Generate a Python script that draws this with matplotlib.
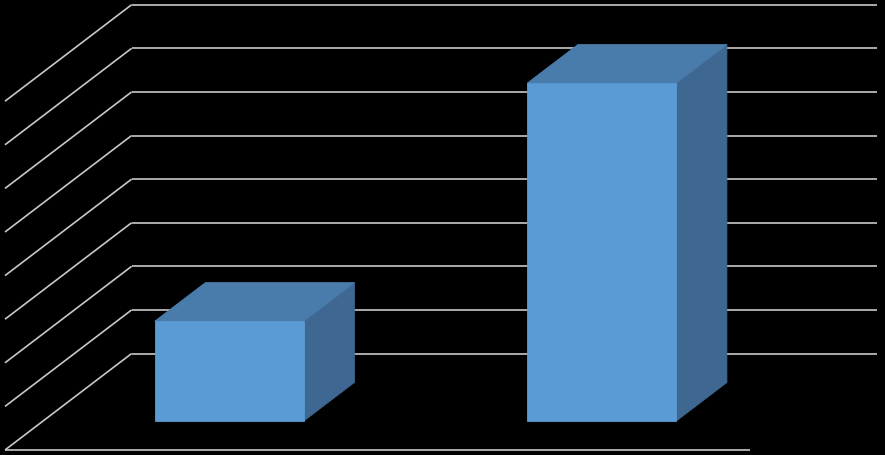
import matplotlib
matplotlib.use("Agg")
import matplotlib.pyplot as plt
from matplotlib.patches import Polygon

# data
categories = ["A", "B"]
values = [2.29, 7.75]
grid_values = [0, 1, 2, 3, 4, 5, 6, 7, 8]

# oblique 3D projection (in data units)
depth_dx = 0.3400   # shift in category units for full depth
depth_dy = 2.213    # shift in value units for full depth
bar_width = 0.4
bar_depth = 0.4

front_color = "#5B9BD5"
top_color = "#4A7CAB"
side_color = "#3E6891"
grid_color = "#C8C8C8"


def project(x, z, v):
    return x + z * depth_dx, v + z * depth_dy


fig = plt.figure(figsize=(8.85, 4.56), dpi=100, facecolor="black")
ax = fig.add_axes([0, 0, 1, 1])
ax.set_facecolor("black")
ax.set_xlim(-0.0134, 2.3624)
ax.set_ylim(-0.1147, 10.344)
ax.axis("off")

n = len(categories)

# back wall and side wall gridlines
for g in grid_values:
    x0, y0 = project(0, 1, g)
    x1, y1 = project(n, 1, g)
    ax.plot([x0, x1], [y0, y1], color=grid_color, lw=1.2, solid_capstyle="butt")
    xa, ya = project(0, 0, g)
    ax.plot([xa, x0], [ya, y0], color=grid_color, lw=1.2, solid_capstyle="butt")

# front floor edge
fx0, fy0 = project(0, 0, 0)
fx1, fy1 = project(n, 0, 0)
ax.plot([fx0, fx1], [fy0, fy1], color=grid_color, lw=1.2, solid_capstyle="butt")

# bars
for i, v in enumerate(values):
    xl = i + 0.5 - bar_width / 2
    xr = i + 0.5 + bar_width / 2
    zf = 0.5 - bar_depth / 2
    zb = 0.5 + bar_depth / 2
    front = [project(xl, zf, 0), project(xr, zf, 0), project(xr, zf, v), project(xl, zf, v)]
    top = [project(xl, zf, v), project(xr, zf, v), project(xr, zb, v), project(xl, zb, v)]
    side = [project(xr, zf, 0), project(xr, zb, 0), project(xr, zb, v), project(xr, zf, v)]
    for pts, c in [(side, side_color), (top, top_color), (front, front_color)]:
        ax.add_patch(Polygon(pts, closed=True, facecolor=c, edgecolor=c,
                             lw=0.6, joinstyle="miter", zorder=3))

fig.savefig("out.png", dpi=100, facecolor="black")
